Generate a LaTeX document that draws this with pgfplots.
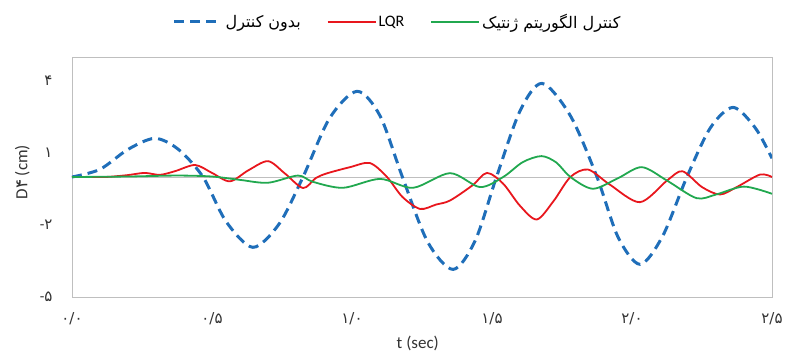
\documentclass[border=0pt]{standalone}
\usepackage{pgfplots}
\pgfplotsset{compat=1.18}
\usepackage{fontspec}
\setmainfont{Carlito}
\newfontfamily\fa[Script=Arabic]{DejaVu Sans}
\TeXXeTstate=1
\definecolor{cblue}{HTML}{1F6EB9}
\definecolor{cred}{HTML}{E8161D}
\definecolor{cgreen}{HTML}{21A84F}
\definecolor{axgray}{HTML}{BFBFBF}
\begin{document}
\begin{tikzpicture}
\begin{axis}[
  at={(0pt,0pt)}, anchor=south west,
  scale only axis, width=700pt, height=240pt,
  xmin=0, xmax=2.5, ymin=-5, ymax=5,
  xtick={0,0.5,1,1.5,2,2.5},
  xticklabels={{\fa ۰/۰},{\fa ۰/۵},{\fa ۱/۰},{\fa ۱/۵},{\fa ۲/۰},{\fa ۲/۵}},
  ytick={-5,-2,1,4},
  yticklabels={{-{\fa ۵}},{-{\fa ۲}},{\fa ۱},{\fa ۴}},
  tick style={draw=none},
  axis line style={draw=axgray, line width=0.8pt},
  ticklabel style={font=\fontsize{15}{18}\selectfont, text=black!80},
  xticklabel style={yshift=-12pt},
  yticklabel style={xshift=-16pt},
  xlabel={t (sec)},
  ylabel={D{\fa ۴} (cm)},
  label style={font=\fontsize{17}{20}\selectfont, text=black!80},
  xlabel style={at={(axis description cs:0.494,-0.192)}, anchor=center},
  ylabel style={at={(axis description cs:-0.071,0.52)}, anchor=center},
  legend columns=3,
  legend style={draw=none, fill=none, at={(axis description cs:0.465,1.146)}, anchor=center,
    font=\fontsize{16}{19}\selectfont,
    /tikz/every even column/.append style={column sep=24pt}},
  legend image code/.code={\draw[#1] (0pt,0pt) -- (48pt,0pt);},
]
\addplot[axgray, line width=0.8pt, forget plot] coordinates {(0,0) (2.5,0)};
\addplot[cblue, line width=3pt, dash pattern=on 10pt off 6pt, smooth] coordinates {
(0,0) (0.1,0.32) (0.2,1.15) (0.296,1.61) (0.38,1.15) (0.468,0) (0.55,-1.85) (0.646,-2.93) (0.74,-1.95) (0.825,0) (0.92,2.45) (1.018,3.57) (1.1,2.55) (1.18,0) (1.27,-2.7) (1.361,-3.85) (1.44,-2.65) (1.516,0) (1.6,2.75) (1.679,3.9) (1.78,2.55) (1.875,0) (1.95,-2.5) (2.029,-3.64) (2.11,-2.45) (2.196,0) (2.28,2.05) (2.361,2.9) (2.44,2.05) (2.5,0.78)};
\addlegendentry{\fa\beginR بدون کنترل\endR}
\addplot[cred, line width=1.8pt, smooth] coordinates {
(0,0) (0.1,0) (0.136,0.01) (0.2,0.08) (0.26,0.17) (0.314,0.09) (0.37,0.25) (0.44,0.5) (0.5,0.17) (0.564,-0.18) (0.63,0.28) (0.70,0.66) (0.76,0.15) (0.825,-0.46) (0.87,-0.05) (0.91,0.15) (0.993,0.41) (1.064,0.58) (1.125,0) (1.18,-0.83) (1.243,-1.33) (1.3,-1.15) (1.35,-0.98) (1.43,-0.35) (1.482,0.17) (1.54,-0.28) (1.6,-1.2) (1.66,-1.77) (1.72,-1.0) (1.78,0) (1.843,0.31) (1.92,-0.31) (2.028,-1.05) (2.125,-0.15) (2.18,0.24) (2.25,-0.42) (2.314,-0.73) (2.374,-0.42) (2.457,0.1) (2.5,0)};
\addlegendentry{LQR}
\addplot[cgreen, line width=1.8pt, smooth] coordinates {
(0,0) (0.2,0.02) (0.375,0.06) (0.5,0.02) (0.6,-0.12) (0.70,-0.24) (0.807,0.06) (0.86,-0.2) (0.968,-0.45) (1.1,-0.08) (1.218,-0.45) (1.35,0.16) (1.457,-0.42) (1.54,0) (1.61,0.62) (1.677,0.87) (1.73,0.6) (1.78,0) (1.86,-0.49) (1.95,-0.05) (2.035,0.41) (2.125,-0.15) (2.23,-0.88) (2.30,-0.73) (2.40,-0.4) (2.5,-0.7)};
\addlegendentry{\fa\beginR کنترل الگوریتم ژنتیک\endR}
\end{axis}
\pgfresetboundingbox
\path[use as bounding box] (-72pt,-59pt) rectangle (714pt,297pt);
\end{tikzpicture}
\end{document}
